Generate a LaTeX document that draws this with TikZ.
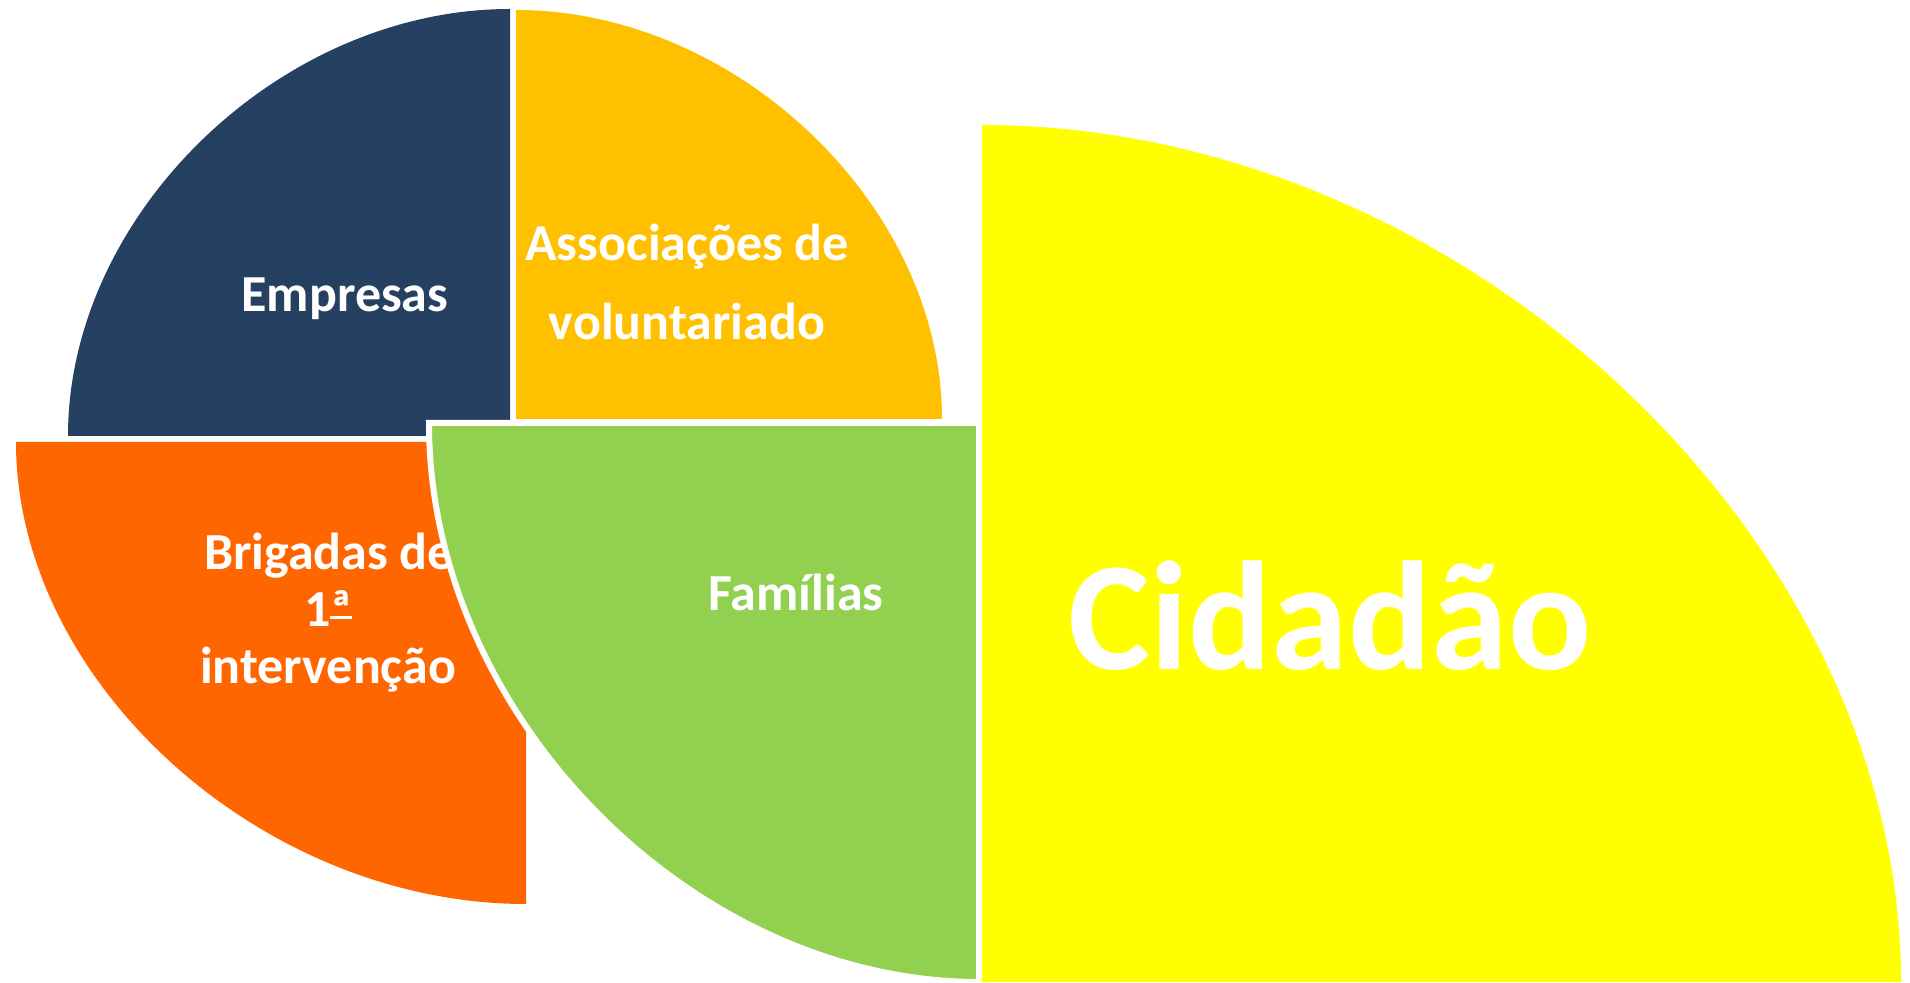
\documentclass[tikz,border=0pt]{standalone}
\usepackage{fontspec}
\setmainfont{Carlito}
\definecolor{navyq}{HTML}{254061}
\definecolor{amberq}{HTML}{FFC000}
\definecolor{orangeq}{HTML}{FF6600}
\definecolor{greenq}{HTML}{92D050}
\definecolor{yellowq}{HTML}{FFFF00}
\newcommand\ordunder{\setbox0=\hbox{ª}\rlap{\copy0}\raisebox{0.16em}{\vrule width\wd0 height 0.06em depth 0pt}}
\tikzset{
  lbl/.style={text=white, font=\fontsize{52}{62}\selectfont\bfseries, anchor=base, inner sep=0pt},
  biglbl/.style={text=white, font=\fontsize{155}{180}\selectfont\bfseries, anchor=base, inner sep=0pt},
}
\begin{document}
\begin{tikzpicture}[x=1pt,y=1pt]
\useasboundingbox (0,0) rectangle (1910,982);
\fill[white] (0,0) rectangle (1910,982);
% navy quarter (Empresas): centre (510,546), rx 442, ry 427
\fill[navyq] (510,546) -- (510,973) .. controls (280,973) and (68,768) .. (68,546) -- cycle;
% amber quarter (Associacoes): centre (516,563), rx 426, ry 409
\fill[amberq] (516,563) -- (942,563) .. controls (942,776) and (737,972) .. (516,972) -- cycle;
% orange quarter (Brigadas): centre (526,540), rx 510, ry 462
\fill[orangeq] (526,540) -- (16,540) .. controls (16,300) and (261,78) .. (526,78) -- cycle;
\node[lbl] (emp) at (345,670) {Empresas};
\node[lbl] (as1) at (687,721) {Associações de};
\node[lbl] (as2) at (687,642) {voluntariado};
\node[lbl] (br1) at (329,412) {Brigadas de};
\node[lbl] (br2) at (328,355) {1\ordunder};
\node[lbl] (br3) at (328,298) {intervenção};
% green quarter (Familias): centre (979,559), rx 550, ry 559
\filldraw[fill=greenq, draw=white, line width=6pt] (979,559) -- (429,559) .. controls (429,266) and (693,0) .. (979,0) -- cycle;
\node[lbl] (fam) at (796,371) {Famílias};
% yellow quarter (Cidadao): centre (982,0), rx 919, ry 857
\fill[yellowq] (982,0) -- (1901,0) .. controls (1901,446) and (1460,857) .. (982,857) -- cycle;
\node[biglbl] (cid) at (1330,312) {Cidadão};
\end{tikzpicture}
\end{document}
